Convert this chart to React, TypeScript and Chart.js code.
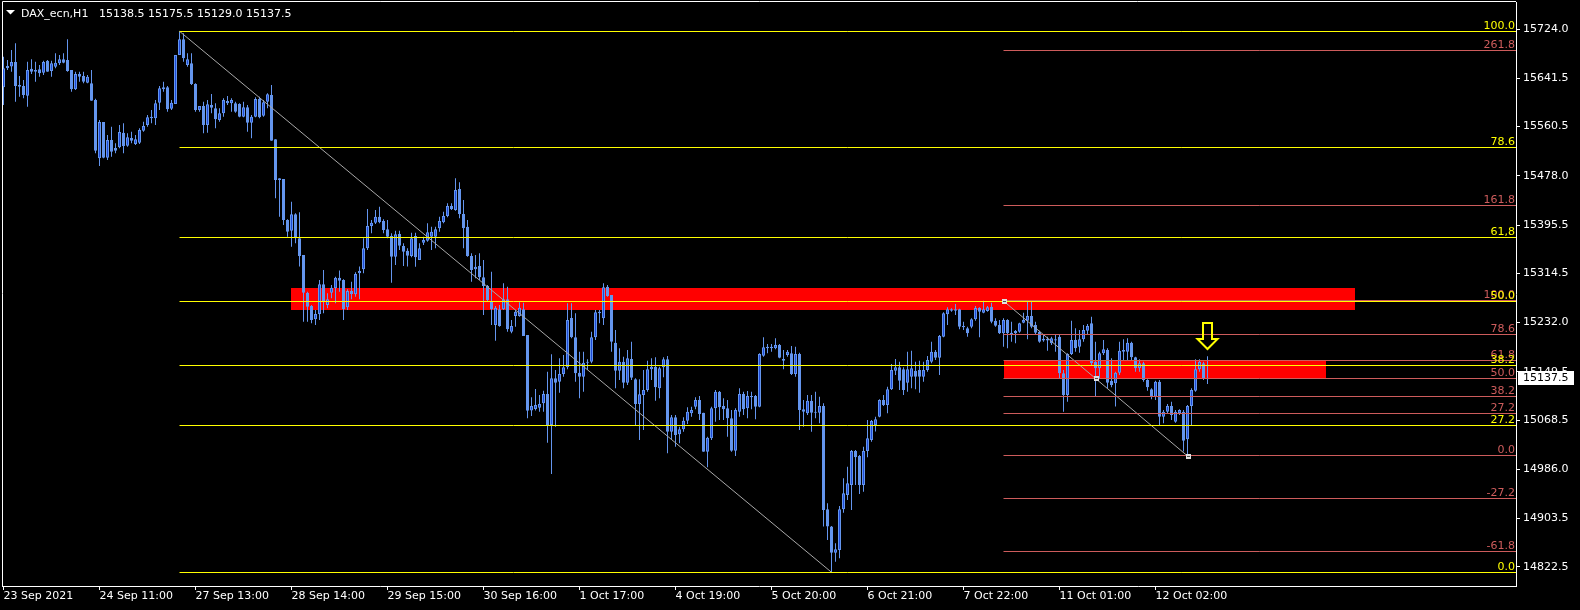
import React, { useEffect, useRef } from "react";
import { Chart, registerables } from "chart.js";

Chart.register(...registerables);

// ---------- DATA (DAX_ecn, H1) ----------
const opens = [
  15626.3, 15662.0, 15661.0, 15668.7, 15630.2, 15628.5, 15612.3, 15657.5, 15652.5, 15656.4,
  15650.8, 15670.9, 15653.6, 15660.9, 15666.5, 15673.2, 15672.1, 15655.3, 15622.9, 15648.6,
  15645.2, 15634.1, 15633.0, 15605.0, 15507.3, 15568.2, 15508.4, 15538.0, 15524.6, 15525.7,
  15550.3, 15528.5, 15541.4, 15531.3, 15533.5, 15553.6, 15563.1, 15574.3, 15574.3, 15600.6,
  15622.9, 15626.3, 15590.5, 15598.3, 15680.4, 15706.7, 15663.7, 15666.5, 15631.8, 15588.3,
  15595.0, 15563.1, 15596.7, 15591.1, 15571.5, 15582.7, 15599.5, 15599.5, 15599.5, 15598.3,
  15577.1, 15592.8, 15567.1, 15577.1, 15606.7, 15578.8, 15602.3, 15613.4, 15539.1, 15471.0,
  15472.7, 15404.0, 15386.1, 15413.5, 15373.2, 15345.3, 15282.2, 15259.8, 15237.5, 15246.4,
  15296.2, 15261.5, 15282.2, 15289.5, 15307.3, 15303.4, 15257.6, 15285.0, 15279.4, 15314.6,
  15321.3, 15356.5, 15393.9, 15399.5, 15409.5, 15402.3, 15388.3, 15377.1, 15342.5, 15380.5,
  15360.4, 15352.6, 15343.6, 15377.1, 15336.9, 15365.9, 15369.3, 15376.0, 15376.0, 15390.0,
  15400.0, 15410.6, 15427.4, 15420.7, 15455.9, 15414.0, 15392.7, 15343.6, 15321.3, 15326.8,
  15307.8, 15293.3, 15267.1, 15228.0, 15254.2, 15254.2, 15271.0, 15216.8, 15243.0, 15243.0,
  15254.2, 15211.2, 15084.5, 15087.2, 15089.5, 15096.7, 15112.4, 15060.4, 15138.6, 15133.0,
  15145.9, 15157.0, 15239.7, 15207.3, 15148.1, 15141.4, 15164.8, 15166.5, 15207.3, 15247.5,
  15239.1, 15292.2, 15278.2, 15198.4, 15151.5, 15166.5, 15131.3, 15171.0, 15136.9, 15095.6,
  15110.7, 15119.1, 15153.7, 15158.2, 15121.9, 15157.0, 15170.4, 15049.2, 15073.2, 15044.8,
  15053.2, 15067.7, 15080.0, 15091.1, 15102.3, 15081.1, 15015.7, 15038.1, 15088.3, 15116.3,
  15092.2, 15088.3, 15071.6, 15017.4, 15082.8, 15112.4, 15088.3, 15109.0, 15109.0, 15091.1,
  15176.6, 15188.9, 15191.7, 15188.9, 15194.5, 15171.0, 15177.7, 15180.5, 15145.9, 15179.4,
  15086.7, 15080.0, 15101.2, 15082.8, 15081.1, 15092.3, 14919.1, 14890.1, 14846.5, 14851.0,
  14919.1, 14943.1, 14959.9, 15016.9, 15008.5, 14959.9, 15016.9, 15035.3, 15060.4, 15074.4,
  15102.3, 15094.0, 15120.2, 15151.5, 15157.1, 15153.7, 15131.4, 15141.4, 15151.5, 15152.6,
  15141.4, 15152.6, 15166.6, 15183.3, 15173.3, 15208.4, 15245.9, 15252.0, 15254.2, 15254.2,
  15226.3, 15222.4, 15225.2, 15237.5, 15256.5, 15248.7, 15251.5, 15258.7, 15235.3, 15228.0,
  15214.0, 15236.4, 15215.1, 15217.9, 15216.8, 15231.9, 15235.3, 15243.1, 15228.0, 15216.8,
  15205.1, 15201.8, 15197.3, 15201.8, 15208.4, 15147.0, 15110.7, 15179.4, 15202.9, 15191.7,
  15204.0, 15218.5, 15230.8, 15166.6, 15155.4, 15180.5, 15186.1, 15134.7, 15130.3, 15148.1,
  15183.3, 15183.3, 15198.4, 15173.8, 15155.4, 15163.8, 15135.8, 15120.2, 15107.9, 15133.0,
  15074.4, 15082.8, 15092.3, 15066.0, 15080.0, 15082.8, 15036.4, 15092.3, 15118.0, 15153.7,
  15163.8, 15138.5,
];
const highs = [
  15677.6, 15672.1, 15688.8, 15700.0, 15645.2, 15638.5, 15669.3, 15673.2, 15669.3, 15663.7,
  15670.9, 15672.1, 15670.9, 15683.2, 15680.4, 15683.2, 15706.7, 15655.3, 15652.5, 15652.5,
  15652.5, 15646.9, 15655.3, 15607.3, 15571.5, 15568.2, 15546.4, 15560.3, 15532.4, 15563.1,
  15565.9, 15549.2, 15552.0, 15546.4, 15557.6, 15568.7, 15579.9, 15588.3, 15605.0, 15628.5,
  15635.8, 15628.5, 15605.0, 15680.4, 15720.2, 15716.7, 15683.2, 15683.2, 15633.0, 15595.0,
  15602.3, 15605.0, 15615.1, 15599.5, 15591.1, 15607.8, 15611.7, 15607.8, 15602.3, 15599.5,
  15602.3, 15596.7, 15579.9, 15609.5, 15610.6, 15605.0, 15616.2, 15630.2, 15539.1, 15473.8,
  15472.7, 15405.1, 15434.7, 15415.1, 15416.8, 15345.3, 15283.9, 15261.5, 15253.1, 15303.4,
  15320.2, 15281.1, 15295.0, 15309.0, 15319.1, 15304.5, 15287.8, 15300.6, 15316.3, 15325.8,
  15373.2, 15422.4, 15404.0, 15420.7, 15426.3, 15405.1, 15404.0, 15381.6, 15386.1, 15386.1,
  15364.9, 15356.5, 15382.7, 15382.7, 15364.8, 15376.0, 15398.3, 15392.7, 15392.7, 15409.5,
  15417.9, 15431.8, 15431.8, 15473.7, 15467.0, 15437.4, 15403.9, 15348.1, 15345.3, 15348.1,
  15336.9, 15295.0, 15317.3, 15259.8, 15261.5, 15297.8, 15292.2, 15236.3, 15253.1, 15266.0,
  15265.4, 15211.2, 15106.8, 15120.8, 15110.7, 15118.0, 15149.8, 15178.8, 15152.6, 15172.1,
  15177.7, 15264.3, 15264.3, 15247.5, 15183.3, 15183.3, 15170.4, 15216.8, 15253.1, 15253.1,
  15297.8, 15295.0, 15278.2, 15219.6, 15188.9, 15174.9, 15186.1, 15200.0, 15138.6, 15136.9,
  15152.6, 15168.2, 15172.1, 15173.8, 15158.2, 15173.8, 15176.0, 15077.2, 15077.2, 15057.6,
  15073.2, 15090.0, 15091.1, 15106.8, 15109.0, 15081.1, 15040.9, 15091.1, 15119.1, 15117.4,
  15105.1, 15102.3, 15085.5, 15088.3, 15121.9, 15116.3, 15117.4, 15116.3, 15110.7, 15180.5,
  15207.3, 15196.1, 15196.1, 15205.6, 15196.1, 15186.1, 15186.1, 15192.8, 15191.7, 15181.6,
  15102.3, 15110.7, 15110.7, 15116.3, 15107.9, 15096.7, 14929.2, 14891.2, 14862.2, 14924.7,
  14971.1, 14990.6, 15018.5, 15018.5, 15010.2, 15024.1, 15068.8, 15068.8, 15074.4, 15103.4,
  15110.7, 15124.7, 15162.6, 15171.0, 15166.6, 15157.1, 15183.3, 15185.0, 15166.6, 15168.2,
  15166.6, 15176.1, 15200.1, 15186.1, 15211.2, 15249.2, 15257.6, 15255.9, 15263.2, 15255.4,
  15233.6, 15225.2, 15239.2, 15259.8, 15257.6, 15268.8, 15259.8, 15265.4, 15239.2, 15236.4,
  15239.2, 15237.5, 15233.6, 15219.6, 15231.9, 15248.7, 15267.1, 15267.1, 15233.6, 15218.5,
  15211.2, 15208.4, 15208.4, 15211.2, 15211.2, 15152.6, 15180.5, 15235.3, 15222.4, 15219.6,
  15228.0, 15229.7, 15242.0, 15200.1, 15183.3, 15202.9, 15188.9, 15172.2, 15149.8, 15200.1,
  15204.0, 15205.7, 15200.1, 15174.9, 15170.5, 15166.6, 15137.0, 15121.9, 15134.7, 15135.8,
  15085.6, 15095.6, 15099.5, 15085.6, 15086.7, 15085.6, 15093.9, 15121.9, 15170.5, 15170.5,
  15166.6, 15175.5,
];
const lows = [
  15596.6, 15655.3, 15652.5, 15602.2, 15610.6, 15607.8, 15593.9, 15648.6, 15635.8, 15644.1,
  15646.9, 15652.5, 15644.1, 15658.1, 15663.7, 15666.5, 15652.5, 15619.0, 15621.8, 15635.8,
  15633.0, 15633.0, 15603.9, 15515.7, 15494.4, 15507.3, 15504.5, 15510.1, 15515.7, 15524.0,
  15515.7, 15526.8, 15532.4, 15529.6, 15531.3, 15552.0, 15560.3, 15565.9, 15563.1, 15588.3,
  15619.0, 15585.5, 15588.3, 15598.3, 15680.4, 15669.3, 15660.9, 15630.2, 15585.5, 15585.5,
  15549.2, 15550.3, 15582.7, 15557.6, 15568.7, 15577.1, 15596.7, 15585.5, 15583.8, 15576.0,
  15576.0, 15552.0, 15540.8, 15576.0, 15574.3, 15577.1, 15591.1, 15536.9, 15440.3, 15409.5,
  15395.6, 15376.0, 15359.3, 15364.9, 15325.8, 15233.6, 15233.6, 15230.8, 15228.0, 15236.4,
  15247.6, 15255.9, 15272.7, 15264.3, 15283.9, 15236.4, 15253.1, 15271.0, 15275.5, 15271.0,
  15314.6, 15353.7, 15381.6, 15397.3, 15398.4, 15381.6, 15373.2, 15298.9, 15328.6, 15353.7,
  15326.9, 15325.8, 15341.4, 15325.7, 15336.9, 15362.0, 15367.6, 15353.6, 15356.4, 15384.4,
  15398.3, 15408.4, 15420.7, 15419.6, 15406.7, 15356.4, 15342.5, 15300.6, 15306.2, 15303.4,
  15244.7, 15267.1, 15228.0, 15201.7, 15225.2, 15253.1, 15216.8, 15214.0, 15225.2, 15241.9,
  15209.5, 15071.6, 15075.5, 15084.5, 15082.8, 15082.8, 15030.8, 14978.3, 15057.6, 15114.6,
  15141.4, 15153.7, 15205.6, 15133.0, 15105.1, 15116.3, 15152.6, 15163.7, 15202.8, 15230.8,
  15228.0, 15275.4, 15183.3, 15121.8, 15135.8, 15121.9, 15127.4, 15135.8, 15060.4, 15035.3,
  15052.0, 15116.3, 15135.8, 15101.2, 15105.1, 15140.3, 15012.9, 15035.3, 15024.1, 15029.7,
  15049.2, 15062.1, 15074.4, 15086.7, 15068.8, 15015.7, 14989.5, 15035.3, 15066.0, 15068.8,
  15068.8, 15040.9, 15015.7, 15008.5, 15074.4, 15077.2, 15071.6, 15086.7, 15069.9, 15090.0,
  15174.9, 15180.5, 15183.3, 15187.2, 15172.1, 15153.7, 15174.9, 15144.2, 15141.4, 15052.0,
  15057.6, 15077.2, 15049.2, 15071.6, 15063.2, 14890.1, 14867.7, 14813.6, 14831.4, 14837.0,
  14913.5, 14934.8, 14918.0, 14959.9, 14944.8, 14948.7, 15006.3, 15032.5, 15049.3, 15073.3,
  15092.3, 15080.0, 15119.1, 15144.2, 15119.1, 15110.7, 15116.3, 15121.9, 15120.2, 15114.6,
  15133.0, 15149.8, 15163.8, 15169.3, 15144.2, 15207.3, 15228.0, 15250.3, 15244.8, 15220.7,
  15219.6, 15208.4, 15222.4, 15235.3, 15207.3, 15247.5, 15250.3, 15230.8, 15225.2, 15212.9,
  15191.7, 15188.9, 15200.1, 15197.3, 15215.1, 15230.8, 15204.0, 15222.4, 15212.9, 15198.4,
  15200.1, 15185.0, 15194.5, 15183.3, 15138.6, 15082.8, 15099.5, 15177.7, 15183.3, 15181.6,
  15200.1, 15211.3, 15161.0, 15107.9, 15138.6, 15177.7, 15121.9, 15123.6, 15091.2, 15144.2,
  15169.4, 15168.3, 15168.3, 15149.8, 15149.8, 15133.0, 15118.0, 15103.4, 15102.3, 15060.4,
  15063.2, 15080.0, 15068.8, 15064.3, 15077.2, 15015.8, 15008.5, 15060.4, 15116.3, 15149.8,
  15135.8, 15129.0,
];
const closes = [
  15658.1, 15658.1, 15668.7, 15628.5, 15627.4, 15613.4, 15655.3, 15652.5, 15655.3, 15649.7,
  15668.7, 15652.5, 15666.5, 15667.6, 15673.2, 15667.6, 15653.6, 15622.9, 15648.6, 15644.1,
  15635.8, 15644.1, 15603.9, 15520.1, 15568.2, 15508.4, 15538.0, 15518.5, 15520.1, 15551.4,
  15527.9, 15542.5, 15536.9, 15539.1, 15554.8, 15561.5, 15576.0, 15577.1, 15599.4, 15624.6,
  15626.3, 15589.4, 15600.6, 15680.4, 15706.7, 15674.9, 15673.2, 15631.8, 15588.3, 15595.0,
  15563.1, 15597.8, 15592.2, 15572.6, 15582.7, 15605.0, 15603.4, 15605.0, 15585.5, 15577.1,
  15592.8, 15567.1, 15577.1, 15606.7, 15576.0, 15601.1, 15614.5, 15536.9, 15471.0, 15473.8,
  15404.0, 15384.4, 15413.5, 15373.2, 15343.6, 15282.2, 15258.7, 15236.4, 15246.4, 15296.2,
  15267.1, 15271.0, 15290.6, 15307.3, 15302.3, 15254.8, 15285.0, 15280.0, 15313.5, 15318.5,
  15356.5, 15393.9, 15399.5, 15409.5, 15400.0, 15387.2, 15376.0, 15342.5, 15379.9, 15360.9,
  15350.9, 15344.2, 15373.2, 15341.4, 15356.4, 15370.4, 15383.3, 15384.4, 15388.3, 15402.2,
  15410.6, 15427.4, 15421.8, 15454.2, 15414.0, 15390.0, 15343.6, 15320.1, 15325.7, 15307.8,
  15293.3, 15269.9, 15254.2, 15257.0, 15226.3, 15271.0, 15220.7, 15226.3, 15250.3, 15257.0,
  15209.5, 15084.4, 15092.3, 15094.0, 15095.6, 15112.4, 15060.4, 15138.6, 15131.3, 15145.9,
  15157.0, 15236.3, 15207.3, 15147.0, 15141.4, 15164.8, 15166.5, 15207.3, 15249.2, 15250.3,
  15291.1, 15276.6, 15200.0, 15151.4, 15166.5, 15131.3, 15172.1, 15139.7, 15095.6, 15111.8,
  15119.1, 15153.7, 15158.2, 15123.5, 15155.4, 15170.4, 15049.2, 15073.2, 15043.7, 15053.2,
  15067.7, 15082.8, 15085.5, 15102.3, 15078.8, 15015.7, 15039.2, 15088.3, 15116.3, 15090.0,
  15086.7, 15071.6, 15017.4, 15085.5, 15112.4, 15086.7, 15109.0, 15106.8, 15091.1, 15179.4,
  15190.6, 15191.7, 15188.9, 15194.5, 15173.2, 15168.2, 15183.3, 15145.9, 15179.4, 15085.5,
  15082.8, 15101.2, 15081.1, 15081.1, 15092.2, 14918.0, 14890.1, 14846.5, 14852.1, 14919.1,
  14945.9, 14962.7, 15016.9, 15006.3, 14959.9, 15016.9, 15038.1, 15067.1, 15069.9, 15102.3,
  15094.0, 15120.2, 15152.6, 15157.1, 15134.7, 15119.1, 15153.7, 15155.4, 15141.4, 15141.4,
  15152.6, 15169.3, 15183.3, 15173.3, 15209.6, 15247.5, 15254.2, 15254.2, 15252.0, 15225.2,
  15224.1, 15214.0, 15237.5, 15256.5, 15250.3, 15254.2, 15257.6, 15233.6, 15226.9, 15214.0,
  15236.4, 15214.0, 15212.9, 15214.0, 15230.8, 15236.4, 15243.1, 15225.2, 15215.1, 15200.1,
  15201.8, 15205.1, 15205.7, 15204.0, 15147.0, 15110.7, 15179.4, 15202.9, 15188.9, 15204.0,
  15219.6, 15226.3, 15163.8, 15155.4, 15180.5, 15187.2, 15131.4, 15127.5, 15148.1, 15185.0,
  15186.1, 15198.4, 15173.8, 15155.4, 15163.8, 15135.8, 15123.6, 15107.9, 15133.0, 15074.4,
  15082.8, 15092.3, 15077.2, 15082.8, 15085.6, 15034.2, 15092.3, 15119.1, 15153.7, 15166.6,
  15138.6, 15137.5,
];

const dateLabels = [
  "23 Sep 2021", "24 Sep 11:00", "27 Sep 13:00", "28 Sep 14:00", "29 Sep 15:00",
  "30 Sep 16:00", "1 Oct 17:00", "4 Oct 19:00", "5 Oct 20:00", "6 Oct 21:00",
  "7 Oct 22:00", "11 Oct 01:00", "12 Oct 02:00",
];
const barsPerDateLabel = 24;
const priceTicks = [
  15724.0, 15641.5, 15560.5, 15478.0, 15395.5, 15314.5,
  15232.0, 15149.5, 15068.5, 14986.0, 14903.5, 14822.5,
];

const symbolName = "DAX_ecn,H1";

const yellowFibLevels = [100, 78.6, 61.8, 50, 38.2, 27.2, 0];
const yellowFibLabels = ["100.0", "78.6", "61,8", "50.0", "38.2", "27.2", "0.0"];
const yellowFibHigh = { bar: 44, price: 15720.2 };
const yellowFibLow = { bar: 207, price: 14813.6 };

const redFibLevels = [261.8, 161.8, 100, 78.6, 61.8, 50, 38.2, 27.2, 0, -27.2, -61.8];
const redFibLabels = ["261.8", "161.8", "100.0", "78.6", "61.8", "50.0", "38.2", "27.2", "0.0", "-27.2", "-61.8"];
const redFibHigh = { bar: 250, price: 15268.2 };
const redFibLow = { bar: 296, price: 15008.5 };

const zoneStartBars = [71.875, 250];
const zoneEndBars = [337.875, 330.6];
const zoneTops = [15290.0, 15169.0];
const zoneBottoms = [15253.1, 15138.4];

const arrowBar = 301;
const arrowPrice = 15230.8;

// ---------- STYLE ----------
const X_MIN = -0.375;
const X_MAX = 378.125;
const Y_MIN = 14790.6;
const Y_MAX = 15769.25;
const FONT = '"DejaVu Sans", sans-serif';
const WICK = "#6495ED";
const BULL_FILL = "#1E4BD8";
const BEAR_FILL = "#6495ED";
const YELLOW = "#FFFF00";
const RED_FIB = "#CD5C5C";
const DIAG = "#a8a8a8";
const MIN_BODY = 1.7;

const fibPrice = (lo: number, hi: number, lv: number) => lo + (lv / 100) * (hi - lo);
const snap = (v: number) => Math.round(v - 0.5) + 0.5;

export default function App() {
  const ref = useRef<HTMLCanvasElement | null>(null);

  useEffect(() => {
    document.body.style.margin = "0";
    document.body.style.background = "#000";
    const canvas = ref.current;
    if (!canvas) return;

    const idx = opens.map((_, i) => i);
    const wickData = idx.map((i) => ({ x: i, y: [lows[i], highs[i]] }));
    const bodyData = idx.map((i) => {
      let lo = Math.min(opens[i], closes[i]);
      let hi = Math.max(opens[i], closes[i]);
      if (hi - lo < MIN_BODY) {
        const m = (hi + lo) / 2;
        lo = m - MIN_BODY / 2;
        hi = m + MIN_BODY / 2;
      }
      return { x: i, y: [lo, hi] };
    });
    const bodyFill = idx.map((i) => (closes[i] > opens[i] ? BULL_FILL : BEAR_FILL));

    const lineDs = (
      pts: { x: number; y: number }[],
      color: string,
      order: number,
      crisp: boolean
    ) => ({
      type: "line" as const,
      data: pts,
      borderColor: color,
      borderWidth: 1,
      pointRadius: 0,
      fill: false,
      tension: 0,
      order,
      crisp,
    });

    const fibSets: any[] = [];
    yellowFibLevels.forEach((lv) => {
      const p = fibPrice(yellowFibLow.price, yellowFibHigh.price, lv);
      fibSets.push(lineDs([{ x: yellowFibHigh.bar, y: p }, { x: X_MAX, y: p }], YELLOW, 1, true));
    });
    redFibLevels.forEach((lv) => {
      const p = fibPrice(redFibLow.price, redFibHigh.price, lv);
      fibSets.push(lineDs([{ x: redFibHigh.bar, y: p }, { x: X_MAX, y: p }], RED_FIB, 2, true));
    });
    fibSets.push(
      lineDs(
        [{ x: yellowFibHigh.bar, y: yellowFibHigh.price }, { x: yellowFibLow.bar, y: yellowFibLow.price }],
        DIAG,
        3,
        false
      )
    );
    fibSets.push(
      lineDs(
        [{ x: redFibHigh.bar, y: redFibHigh.price }, { x: redFibLow.bar, y: redFibLow.price }],
        DIAG,
        3,
        false
      )
    );

    const overlay = {
      id: "overlay",
      beforeDatasetsDraw(chart: any) {
        const { ctx, scales, chartArea } = chart;
        const xs = scales.x;
        const ys = scales.y;
        // pixel-snap the horizontal level lines (positions come from the y scale)
        chart.data.datasets.forEach((ds: any, di: number) => {
          if (!ds.crisp) return;
          const meta = chart.getDatasetMeta(di);
          meta.data.forEach((el: any) => {
            el.y = snap(el.y);
          });
          if (meta.dataset) meta.dataset._path = undefined;
        });
        ctx.save();
        ctx.beginPath();
        ctx.rect(chartArea.left, chartArea.top, chartArea.right - chartArea.left, chartArea.bottom - chartArea.top);
        ctx.clip();
        ctx.fillStyle = "#FF0000";
        for (let k = 0; k < zoneTops.length; k++) {
          const x1 = Math.round(xs.getPixelForValue(zoneStartBars[k]));
          const x2 = Math.round(xs.getPixelForValue(zoneEndBars[k]));
          const y1 = Math.round(ys.getPixelForValue(zoneTops[k]));
          const y2 = Math.round(ys.getPixelForValue(zoneBottoms[k]));
          ctx.fillRect(x1, y1, x2 - x1, y2 - y1);
        }
        ctx.restore();
      },
      afterDraw(chart: any) {
        const { ctx, scales, chartArea } = chart;
        const xs = scales.x;
        const ys = scales.y;
        ctx.save();
        // frame (top & left)
        ctx.strokeStyle = "#FFFFFF";
        ctx.lineWidth = 1;
        ctx.beginPath();
        ctx.moveTo(2.5, chartArea.bottom);
        ctx.lineTo(2.5, 1.5);
        ctx.lineTo(chartArea.right, 1.5);
        ctx.stroke();

        // fib labels
        ctx.font = "11px " + FONT;
        ctx.textAlign = "right";
        ctx.textBaseline = "alphabetic";
        const lx = chartArea.right - 1;
        redFibLevels.forEach((lv, k) => {
          const y = snap(ys.getPixelForValue(fibPrice(redFibLow.price, redFibHigh.price, lv)));
          ctx.fillStyle = RED_FIB;
          ctx.fillText(redFibLabels[k], lx, y - 2.5);
        });
        yellowFibLevels.forEach((lv, k) => {
          const y = snap(ys.getPixelForValue(fibPrice(yellowFibLow.price, yellowFibHigh.price, lv)));
          ctx.fillStyle = YELLOW;
          ctx.fillText(yellowFibLabels[k], lx, y - 2.5);
        });

        // selection handles of the second fibo
        const hx1 = xs.getPixelForValue(redFibHigh.bar);
        const hy1 = ys.getPixelForValue(redFibHigh.price);
        const hx2 = xs.getPixelForValue(redFibLow.bar);
        const hy2 = ys.getPixelForValue(redFibLow.price);
        [[hx1, hy1], [(hx1 + hx2) / 2, (hy1 + hy2) / 2], [hx2, hy2]].forEach(([hx, hy]) => {
          const rx = Math.round(hx) - 2;
          const ry = Math.round(hy) - 2;
          ctx.fillStyle = "#E0E0E0";
          ctx.fillRect(rx, ry, 5, 5);
          ctx.fillStyle = "#505050";
          ctx.fillRect(rx + 1, ry + 2, 3, 1);
        });

        // arrow
        const ax = xs.getPixelForValue(arrowBar);
        const ay = Math.round(ys.getPixelForValue(arrowPrice));
        ctx.strokeStyle = YELLOW;
        ctx.lineWidth = 2;
        ctx.beginPath();
        ctx.moveTo(ax - 4.5, ay);
        ctx.lineTo(ax + 4.5, ay);
        ctx.lineTo(ax + 4.5, ay + 16);
        ctx.lineTo(ax + 10, ay + 16);
        ctx.lineTo(ax, ay + 26);
        ctx.lineTo(ax - 10, ay + 16);
        ctx.lineTo(ax - 4.5, ay + 16);
        ctx.closePath();
        ctx.stroke();

        // current price box
        const last = closes.length - 1;
        const cy = Math.round(ys.getPixelForValue(closes[last]));
        ctx.fillStyle = "#FFFFFF";
        ctx.fillRect(chartArea.right + 2, cy - 8, 56, 14);
        ctx.fillStyle = "#000000";
        ctx.textAlign = "left";
        ctx.textBaseline = "middle";
        ctx.fillText(closes[last].toFixed(1), chartArea.right + 7, cy - 1);

        // title
        ctx.fillStyle = "#FFFFFF";
        ctx.beginPath();
        ctx.moveTo(6, 10);
        ctx.lineTo(15, 10);
        ctx.lineTo(10.5, 14.5);
        ctx.closePath();
        ctx.fill();
        ctx.textBaseline = "alphabetic";
        ctx.fillText(symbolName, 21, 16.5);
        const ohlc = [opens[last], highs[last], lows[last], closes[last]].map((v) => v.toFixed(1)).join(" ");
        ctx.fillText(ohlc, 99, 16.5);
        ctx.restore();
      },
    };

    const chart = new Chart(canvas, {
      type: "bar",
      data: {
        datasets: [
          ...fibSets,
          {
            type: "bar",
            data: bodyData,
            backgroundColor: bodyFill,
            borderColor: WICK,
            borderWidth: 1,
            borderSkipped: false,
            barThickness: 3,
            grouped: false,
            inflateAmount: 0,
            order: 10,
          },
          {
            type: "bar",
            data: wickData,
            backgroundColor: WICK,
            borderWidth: 0,
            barThickness: 1,
            grouped: false,
            inflateAmount: 0,
            order: 11,
          },
        ] as any,
      },
      options: {
        responsive: false,
        animation: false,
        devicePixelRatio: 1,
        events: [],
        layout: { padding: { left: 2, top: 2, right: 0, bottom: 0 } },
        plugins: { legend: { display: false }, tooltip: { enabled: false }, title: { display: false } },
        scales: {
          x: {
            type: "linear",
            position: "bottom",
            min: X_MIN,
            max: X_MAX,
            offset: false,
            afterFit: (s: any) => {
              s.height = 24;
              s.paddingLeft = 0;
              s.paddingRight = 0;
              s.paddingTop = 0;
              s.paddingBottom = 0;
            },
            afterBuildTicks: (s: any) => {
              s.ticks = dateLabels.map((_, k) => ({ value: k * barsPerDateLabel }));
            },
            ticks: {
              autoSkip: false,
              maxRotation: 0,
              minRotation: 0,
              align: "start",
              padding: 0,
              color: "#FFFFFF",
              font: { family: FONT, size: 11 },
              callback: (v: any) => dateLabels[Math.round(Number(v) / barsPerDateLabel)] ?? "",
            },
            grid: { drawOnChartArea: false, drawTicks: true, tickLength: 4, color: "#FFFFFF", offset: false },
            border: { display: true, color: "#FFFFFF" },
          },
          y: {
            type: "linear",
            position: "right",
            min: Y_MIN,
            max: Y_MAX,
            afterFit: (s: any) => {
              s.width = 64;
              s.paddingTop = 0;
              s.paddingBottom = 0;
              s.paddingLeft = 0;
              s.paddingRight = 0;
            },
            afterBuildTicks: (s: any) => {
              s.ticks = priceTicks.map((v) => ({ value: v }));
            },
            ticks: {
              padding: 3,
              color: "#FFFFFF",
              font: { family: FONT, size: 11 },
              callback: (v: any) => Number(v).toFixed(1),
            },
            grid: { drawOnChartArea: false, drawTicks: true, tickLength: 4, color: "#FFFFFF" },
            border: { display: true, color: "#FFFFFF" },
          },
        },
      } as any,
      plugins: [overlay],
    });

    return () => chart.destroy();
  }, []);

  return (
    <div style={{ width: 1580, height: 610, background: "#000" }}>
      <canvas ref={ref} width={1580} height={610} style={{ display: "block", width: 1580, height: 610 }} />
    </div>
  );
}
